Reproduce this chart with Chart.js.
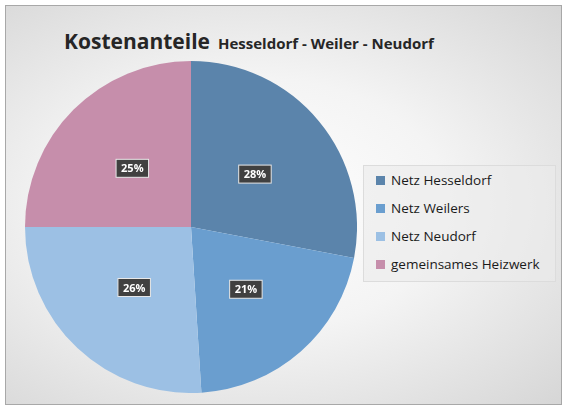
<!DOCTYPE html>
<html><head><meta charset="utf-8">
<script src="https://cdn.jsdelivr.net/npm/chart.js@4"></script>
<style>
body{margin:0;background:#fff;font-family:"Open Sans","Liberation Sans",sans-serif}
#frame{position:absolute;left:5px;top:5px;width:555px;height:398px;border:1px solid #a8a8a8;
background:radial-gradient(ellipse at 45% 50%,#ffffff 0%,#f4f4f4 45%,#d6d6d6 100%);}
#title{position:absolute;left:58px;top:21px;color:#262626;font-weight:bold;white-space:nowrap}
#title .a{font-size:21px}#title .b{font-size:15px;margin-left:8px}
#cw{position:absolute;left:19px;top:55px;width:332px;height:332px}
#legend{position:absolute;left:357px;top:159px;width:191px;height:115px;background:rgba(235,235,235,0.6);border:1px solid #dcdcdc}
#legend div{position:absolute;left:12px;font-size:13.5px;color:#1a1a1a;white-space:nowrap}
#legend span{display:inline-block;width:9px;height:9px;margin-right:6px;vertical-align:0px}
</style></head><body>
<div id="frame"><div id="title"><span class="a">Kostenanteile</span><span class="b">Hesseldorf - Weiler - Neudorf</span></div>
<div id="cw"><canvas id="c"></canvas></div><div id="legend"></div></div>
<script>
const categories=["Netz Hesseldorf","Netz Weilers","Netz Neudorf","gemeinsames Heizwerk"];
const values=[28,21,26,25];
const colors=["#5b84ab","#6a9ecf","#9cc0e4","#c68eab"];
const lg=document.getElementById('legend');
categories.forEach((c,i)=>{const d=document.createElement('div');d.style.top=(5+i*28)+'px';d.innerHTML='<span style="background:'+colors[i]+'"></span>'+c;lg.appendChild(d);});
const labelPlugin={id:'lbl',afterDatasetsDraw(ch){const ctx=ch.ctx;const meta=ch.getDatasetMeta(0);
meta.data.forEach((arc,i)=>{const a=(arc.startAngle+arc.endAngle)/2;const r=arc.outerRadius*0.5;
const x=arc.x+Math.cos(a)*r,y=arc.y+Math.sin(a)*r;const t=values[i]+'%';ctx.save();ctx.font='bold 11px "Open Sans",sans-serif';
const w=ctx.measureText(t).width+10;ctx.fillStyle='#404040';ctx.fillRect(x-w/2,y-9,w,18);ctx.strokeStyle='#e8e8e8';ctx.lineWidth=1;ctx.strokeRect(x-w/2,y-9,w,18);
ctx.fillStyle='#fff';ctx.textAlign='center';ctx.textBaseline='middle';ctx.fillText(t,x,y+1);ctx.restore();});}};
new Chart(document.getElementById('c'),{type:'pie',data:{labels:categories,datasets:[{data:values,backgroundColor:colors,borderColor:'#ffffff',borderWidth:0}]},
options:{responsive:true,maintainAspectRatio:false,animation:false,layout:{padding:0},plugins:{legend:{display:false},tooltip:{enabled:false}}},plugins:[labelPlugin]});
</script></body></html>
